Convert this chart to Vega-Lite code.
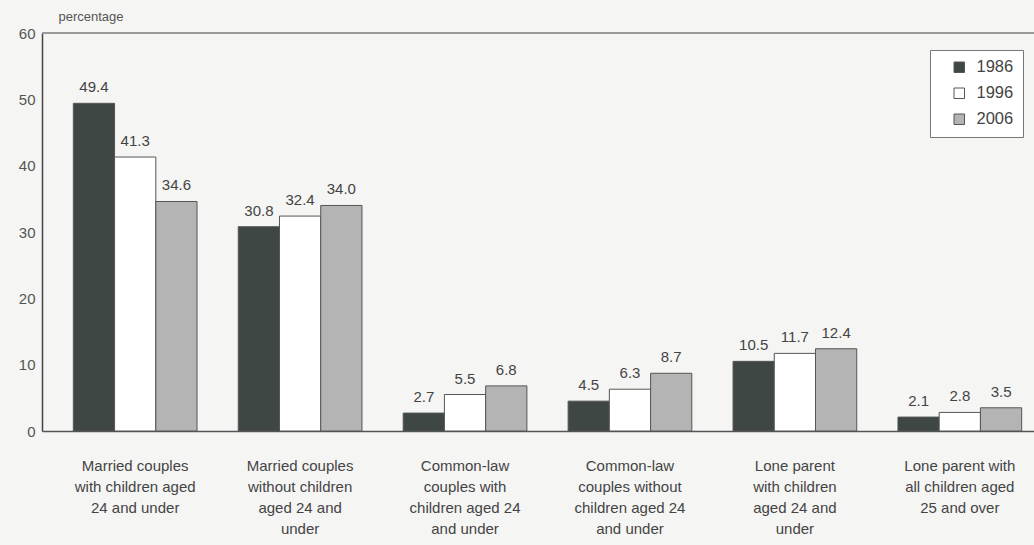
{
  "$schema": "https://vega.github.io/schema/vega-lite/v6.json",
  "autosize": "none",
  "width": 1011,
  "height": 398,
  "padding": {"left": 42, "top": 33, "right": 0, "bottom": 114},
  "background": "#f5f5f4",
  "config": {
    "view": {"stroke": null},
    "font": "Liberation Sans",
    "axis": {"labelColor": "#555555", "labelFont": "Liberation Sans"}
  },
  "data": {
    "values": [
      {"category": "Married couples|with children aged|24 and under", "year": "1986", "value": 49.4},
      {"category": "Married couples|with children aged|24 and under", "year": "1996", "value": 41.3},
      {"category": "Married couples|with children aged|24 and under", "year": "2006", "value": 34.6},
      {"category": "Married couples|without children|aged 24 and|under", "year": "1986", "value": 30.8},
      {"category": "Married couples|without children|aged 24 and|under", "year": "1996", "value": 32.4},
      {"category": "Married couples|without children|aged 24 and|under", "year": "2006", "value": 34.0},
      {"category": "Common-law|couples with|children aged 24|and under", "year": "1986", "value": 2.7},
      {"category": "Common-law|couples with|children aged 24|and under", "year": "1996", "value": 5.5},
      {"category": "Common-law|couples with|children aged 24|and under", "year": "2006", "value": 6.8},
      {"category": "Common-law|couples without|children aged 24|and under", "year": "1986", "value": 4.5},
      {"category": "Common-law|couples without|children aged 24|and under", "year": "1996", "value": 6.3},
      {"category": "Common-law|couples without|children aged 24|and under", "year": "2006", "value": 8.7},
      {"category": "Lone parent|with children|aged 24 and|under", "year": "1986", "value": 10.5},
      {"category": "Lone parent|with children|aged 24 and|under", "year": "1996", "value": 11.7},
      {"category": "Lone parent|with children|aged 24 and|under", "year": "2006", "value": 12.4},
      {"category": "Lone parent with|all children aged|25 and over", "year": "1986", "value": 2.1},
      {"category": "Lone parent with|all children aged|25 and over", "year": "1996", "value": 2.8},
      {"category": "Lone parent with|all children aged|25 and over", "year": "2006", "value": 3.5}
    ]
  },
  "layer": [
    {
      "mark": {"type": "rule", "color": "#9a9a9a", "strokeWidth": 2},
      "encoding": {"y": {"datum": 60, "type": "quantitative", "scale": {"domain": [0, 60], "nice": false}}}
    },
    {
      "encoding": {
        "x": {
          "field": "category",
          "type": "nominal",
          "sort": null,
          "scale": {"paddingInner": 0.25, "paddingOuter": 0.19},
          "axis": {
            "title": null,
            "labelAngle": 0,
            "labelExpr": "split(datum.label, '|')",
            "labelFontSize": 15,
            "labelLineHeight": 21,
            "labelPadding": 27,
            "labelColor": "#444444",
            "ticks": false,
            "domainColor": "#555555",
            "domainWidth": 1.5,
            "labelLimit": 200
          }
        },
        "xOffset": {"field": "year", "type": "nominal", "sort": ["1986", "1996", "2006"]},
        "y": {
          "field": "value",
          "type": "quantitative",
          "scale": {"domain": [0, 60], "nice": false},
          "axis": {
            "title": "percentage",
            "titleAngle": 0,
            "titleAnchor": "end",
            "titleAlign": "left",
            "titleBaseline": "bottom",
            "titleX": 16,
            "titleY": -10,
            "titleFontSize": 13,
            "titleFontWeight": "normal",
            "titleColor": "#555555",
            "values": [0, 10, 20, 30, 40, 50, 60],
            "labelFontSize": 15,
            "labelPadding": 7,
            "ticks": false,
            "domainColor": "#444444",
            "domainWidth": 1.5,
            "gridColor": "#d8d8d8",
            "gridWidth": 1
          }
        }
      },
      "layer": [
        {
          "mark": {"type": "bar", "stroke": "#555555", "strokeWidth": 1},
          "encoding": {
            "fill": {
              "field": "year",
              "type": "nominal",
              "scale": {"domain": ["1986", "1996", "2006"], "range": ["#3e4744", "#ffffff", "#b4b4b4"]},
              "legend": {
                "title": null,
                "orient": "none",
                "legendX": 888,
                "legendY": 17,
                "symbolType": "square",
                "symbolSize": 110,
                "symbolStrokeColor": "#555555",
                "symbolStrokeWidth": 1,
                "symbolOffset": 12,
                "labelFontSize": 16.5,
                "labelColor": "#444444",
                "rowPadding": 9,
                "labelOffset": 9,
                "strokeColor": "#777777",
                "padding": 9,
                "fillColor": "#ffffff"
              }
            }
          }
        },
        {
          "mark": {"type": "text", "dy": -16, "fontSize": 15, "color": "#444444"},
          "encoding": {
            "text": {"field": "value", "type": "quantitative", "format": ".1f"}
          }
        }
      ]
    }
  ]
}
